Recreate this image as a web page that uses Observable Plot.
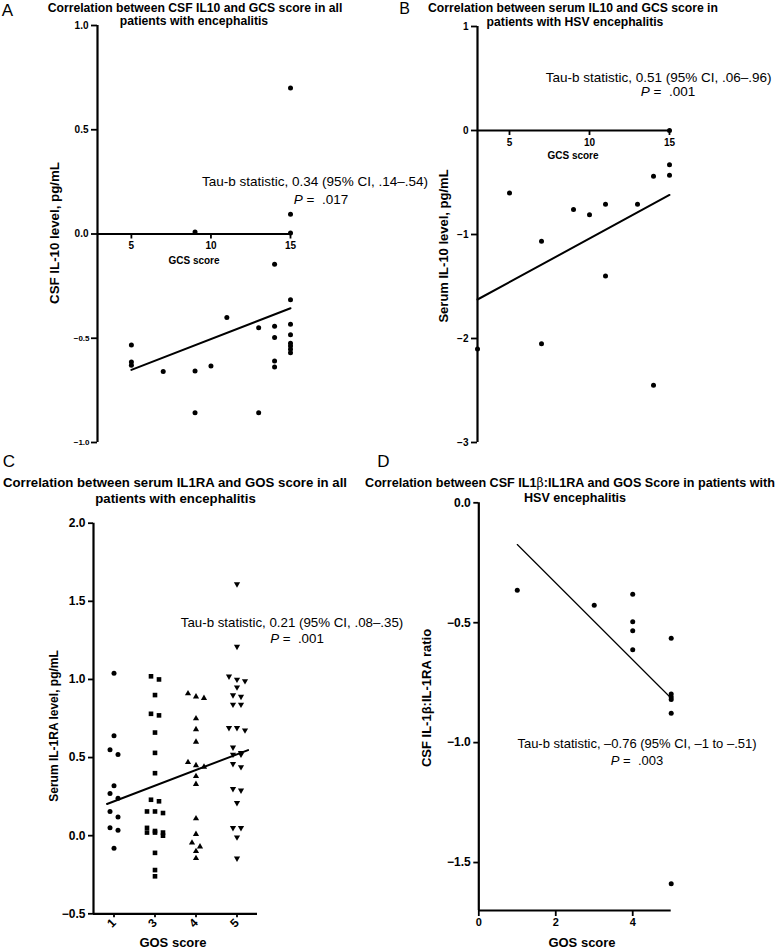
<!DOCTYPE html>
<html><head><meta charset="utf-8">
<script src="https://cdn.jsdelivr.net/npm/d3@7"></script>
<script src="https://cdn.jsdelivr.net/npm/@observablehq/plot@0.6"></script>
<style>
html,body{margin:0;padding:0;background:#fff;}
#page{position:relative;width:778px;height:948px;overflow:hidden;background:#fff;color:#000;}
</style></head>
<body><div id="page"></div>
<script>
// ---------- DATA ----------
// Panel A: CSF IL-10 vs GCS score (all patients)
const gcsA  = [15, 15, 15, 9, 14, 15, 11, 13, 14, 14, 14, 14, 15, 15, 15, 15, 15, 15, 5, 5, 5, 7, 9, 10, 9, 13];
const il10A = [0.70, 0.095, 0.005, 0.01, -0.145, -0.315, -0.40, -0.45, -0.443, -0.497, -0.609, -0.638, -0.433, -0.483, -0.524, -0.537, -0.553, -0.569, -0.532, -0.614, -0.63, -0.659, -0.657, -0.633, -0.857, -0.857];
const regAX = [5, 15];
const regAY = [-0.652, -0.356];
const xDomainA = [2.87, 15];
const yDomainA = [-1, 1];
const xTicksA = [5, 10, 15];
const yTicksA = [1, 0.5, 0];
const yTicksNegA = [-0.5, -1];

// Panel B: serum IL-10 vs GCS score (HSV)
const gcsB  = [15, 15, 15, 14, 5, 9, 10, 11, 13, 7, 11, 3, 7, 14];
const il10B = [0, -0.33, -0.43, -0.44, -0.60, -0.76, -0.81, -0.71, -0.71, -1.065, -1.40, -2.10, -2.05, -2.45];
const regBX = [3, 15];
const regBY = [-1.625, -0.62];
const xDomainB = [3, 15];
const yDomainB = [-3, 1];
const xTicksB = [5, 10, 15];
const yTicksB = [1, 0, -1, -2, -3];

// Panel C: serum IL-1RA vs GOS score (all patients)
const gosCats = ["1", "3", "4", "5"];
const il1raGos1 = [1.04, 0.64, 0.55, 0.52, 0.32, 0.27, 0.24, 0.155, 0.12, 0.05, 0.035, -0.08];
const il1raGos3 = [1.02, 1.0, 0.9, 0.78, 0.77, 0.66, 0.53, 0.40, 0.23, 0.22, 0.155, 0.145, 0.155, 0.05, 0.03, 0.02, 0.02, 0.02, 0.0, -0.11, -0.22, -0.26];
const il1raGos4 = [0.91, 0.89, 0.88, 0.75, 0.68, 0.60, 0.47, 0.45, 0.44, 0.38, 0.33, 0.11, 0.01, -0.045, -0.07, -0.10, -0.145];
const il1raGos5 = [1.61, 1.21, 1.02, 1.0, 0.99, 0.95, 0.90, 0.89, 0.84, 0.84, 0.69, 0.69, 0.675, 0.565, 0.53, 0.52, 0.52, 0.46, 0.44, 0.30, 0.29, 0.21, 0.05, 0.05, -0.01, -0.145];
const regCX = [-0.17, 3.27];   // in category-index units
const regCY = [0.203, 0.548];
const yDomainC = [-0.5, 2.0];
const yTicksC = [2.0, 1.5, 1.0, 0.5, 0.0, -0.5];

// Panel D: CSF IL-1beta:IL-1RA ratio vs GOS score (HSV)
const gosD   = [1, 3, 4, 4, 4, 4, 5, 5, 5, 5, 5, 5];
const ratioD = [-0.365, -0.427, -0.381, -0.496, -0.533, -0.613, -0.565, -0.797, -0.81, -0.82, -0.878, -1.588];
const regDX = [1, 5];
const regDY = [-0.174, -0.815];
const xDomainD = [0, 5];
const yDomainD = [-1.7, 0];
const xTicksD = [0, 2, 4];
const yTicksD = [0, -0.5, -1.0, -1.5];

// ---------- LAYOUT HELPERS ----------
const FONT = '"Liberation Sans", Arial, Helvetica, sans-serif';
const page = document.getElementById("page");
const fmt1 = d3.format(".1f");
const fmt0 = d3.format("d");

function place(node, left, top) {
  node.style.position = "absolute";
  node.style.left = left + "px";
  node.style.top = top + "px";
  page.appendChild(node);
}
function txt(html, cx, cy, size, weight, rotate) {
  const d = document.createElement("div");
  d.innerHTML = html;
  d.style.position = "absolute";
  d.style.left = cx + "px";
  d.style.top = cy + "px";
  d.style.fontFamily = FONT;
  d.style.fontSize = size + "px";
  d.style.fontWeight = weight;
  d.style.lineHeight = "1";
  d.style.whiteSpace = "nowrap";
  d.style.transform = "translate(-50%,-50%)" + (rotate ? ` rotate(${rotate}deg)` : "");
  page.appendChild(d);
}
// pixel offset from bottom frame edge to the y value yv
function offsetTo(yDom, mt, mb, h, yv) {
  const ph = h - mt - mb;
  return mt + (yDom[1] - yv) / (yDom[1] - yDom[0]) * ph - (h - mb);
}
const baseStyle = {fontFamily: FONT, background: "transparent", overflow: "visible", color: "#000"};
const AX = 2.2;   // axis line width
const TK = 1.8;   // tick width

// ---------- PANEL A ----------
{
  const W = 389, H = 470, ml = 97, mr = 99, mt = 25, mb = 28;
  const dy0 = offsetTo(yDomainA, mt, mb, H, 0);
  const p = Plot.plot({
    width: W, height: H, marginLeft: ml, marginRight: mr, marginTop: mt, marginBottom: mb,
    x: {domain: xDomainA}, y: {domain: yDomainA},
    style: baseStyle,
    marks: [
      Plot.ruleX([xDomainA[0]], {stroke: "#000", strokeWidth: AX}),
      Plot.ruleY([0], {stroke: "#000", strokeWidth: AX}),
      Plot.axisY({ticks: yTicksA, tickFormat: fmt1, tickSize: 6, tickPadding: 3, fontSize: 10, fontWeight: "bold", strokeWidth: TK, label: null}),
      Plot.axisY({ticks: yTicksNegA, tickFormat: fmt1, tickSize: 6, tickPadding: 2, fontSize: 8, fontWeight: "bold", strokeWidth: TK, label: null}),
      Plot.axisX({ticks: xTicksA, tickFormat: fmt0, tickSize: 5, tickPadding: 3, fontSize: 10, fontWeight: "bold", strokeWidth: TK, label: null, dy: dy0}),
      Plot.line({length: regAX.length}, {x: regAX, y: regAY, stroke: "#000", strokeWidth: 2}),
      Plot.dot({length: gcsA.length}, {x: gcsA, y: il10A, r: 2.5, fill: "#000", stroke: "none"})
    ]
  });
  place(p, 0, 0);
}

// ---------- PANEL B ----------
{
  const W = 389, H = 470, ml = 88, mr = 109, mt = 26, mb = 28;
  const dy0 = offsetTo(yDomainB, mt, mb, H, 0);
  const p = Plot.plot({
    width: W, height: H, marginLeft: ml, marginRight: mr, marginTop: mt, marginBottom: mb,
    x: {domain: xDomainB}, y: {domain: yDomainB},
    style: baseStyle,
    marks: [
      Plot.ruleX([xDomainB[0]], {stroke: "#000", strokeWidth: AX}),
      Plot.ruleY([0], {stroke: "#000", strokeWidth: AX}),
      Plot.axisY({ticks: yTicksB, tickFormat: fmt0, tickSize: 6, tickPadding: 3, fontSize: 10, fontWeight: "bold", strokeWidth: TK, label: null}),
      Plot.axisX({ticks: xTicksB, tickFormat: fmt0, tickSize: 5, tickPadding: 3, fontSize: 10, fontWeight: "bold", strokeWidth: TK, label: null, dy: dy0}),
      Plot.line({length: regBX.length}, {x: regBX, y: regBY, stroke: "#000", strokeWidth: 2}),
      Plot.dot({length: gcsB.length}, {x: gcsB, y: il10B, r: 2.5, fill: "#000", stroke: "none"})
    ]
  });
  place(p, 389, 0);
}

// ---------- PANEL C ----------
{
  const W = 389, H = 478, ml = 93, mr = 132, mt = 52.7, mb = 34.7;
  const kY = (H - mt - mb) / (yDomainC[1] - yDomainC[0]);   // px per y unit
  const xDomainC = [-0.5, gosCats.length - 0.5];
  const kX = (W - ml - mr) / (xDomainC[1] - xDomainC[0]);   // px per category step
  // column-scatter spreading: points close in y share a centred row
  function spread(values, step, rowGap, maxPerRow) {
    const idx = values.map((v, i) => i).sort((a, b) => values[b] - values[a]);
    const off = new Array(values.length).fill(0);
    let row = [];
    const flush = () => { row.forEach((i, k) => off[i] = (k - (row.length - 1) / 2) * step); row = []; };
    for (const i of idx) {
      if (row.length && ((values[row[0]] - values[i]) * kY > rowGap || row.length >= maxPerRow)) flush();
      row.push(i);
    }
    flush();
    return off;
  }
  const groups = [il1raGos1, il1raGos3, il1raGos4, il1raGos5];
  const triDown = {draw(ctx, size) {
    const y = -Math.sqrt(size / (Math.sqrt(3) * 3));
    ctx.moveTo(0, -y * 2);
    ctx.lineTo(-Math.sqrt(3) * y, y);
    ctx.lineTo(Math.sqrt(3) * y, y);
    ctx.closePath();
  }};
  const symbols = ["circle", "square", "triangle", triDown];
  const radii = [2.5, 2.6, 2.3, 2.3];
  const dotMarks = groups.map((vals, gi) => {
    const off = spread(vals, 8, 6, 3);
    const xs = vals.map((v, i) => gi + off[i] / kX);
    return Plot.dot({length: vals.length}, {x: xs, y: vals, symbol: symbols[gi], r: radii[gi], fill: "#000", stroke: "none"});
  });
  const p = Plot.plot({
    width: W, height: H, marginLeft: ml, marginRight: mr, marginTop: mt, marginBottom: mb,
    x: {domain: xDomainC}, y: {domain: yDomainC},
    style: baseStyle,
    marks: [
      Plot.ruleX([xDomainC[0]], {stroke: "#000", strokeWidth: AX}),
      Plot.ruleY([yDomainC[0]], {stroke: "#000", strokeWidth: AX}),
      Plot.axisY({ticks: yTicksC, tickFormat: fmt1, tickSize: 5, tickPadding: 3, fontSize: 12, fontWeight: "bold", strokeWidth: TK, label: null}),
      Plot.axisX({ticks: gosCats.map((c, i) => i), tickFormat: i => gosCats[i], tickRotate: -45, tickSize: 4, tickPadding: 3, fontSize: 12, fontWeight: "bold", strokeWidth: TK, label: null}),
      Plot.line({length: regCX.length}, {x: regCX, y: regCY, stroke: "#000", strokeWidth: 2}),
      ...dotMarks
    ]
  });
  place(p, 0, 470);
}

// ---------- PANEL D ----------
{
  const W = 389, H = 478, ml = 89.3, mr = 107.3, mt = 32.3, mb = 38;
  const p = Plot.plot({
    width: W, height: H, marginLeft: ml, marginRight: mr, marginTop: mt, marginBottom: mb,
    x: {domain: xDomainD}, y: {domain: yDomainD},
    style: baseStyle,
    marks: [
      Plot.ruleX([xDomainD[0]], {stroke: "#000", strokeWidth: AX}),
      Plot.ruleY([yDomainD[0]], {stroke: "#000", strokeWidth: AX}),
      Plot.axisY({ticks: yTicksD, tickFormat: fmt1, tickSize: 5, tickPadding: 3, fontSize: 12, fontWeight: "bold", strokeWidth: TK, label: null}),
      Plot.axisX({ticks: xTicksD, tickFormat: fmt0, tickSize: 6, tickPadding: 2, fontSize: 11, fontWeight: "bold", strokeWidth: TK, label: null}),
      Plot.line({length: regDX.length}, {x: regDX, y: regDY, stroke: "#000", strokeWidth: 1.2}),
      Plot.dot({length: gosD.length}, {x: gosD, y: ratioD, r: 2.5, fill: "#000", stroke: "none"})
    ]
  });
  place(p, 389, 470);
}

// ---------- TEXT ----------
// panel letters
txt("A", 7.5, 10, 17, "normal");
txt("B", 404.5, 9, 16, "normal");
txt("C", 9, 461, 17, "normal");
txt("D", 383.5, 461, 17, "normal");
// titles
txt("Correlation between CSF IL10 and GCS score in all", 195, 7.5, 12.2, "bold");
txt("patients with encephalitis", 194, 21, 12.2, "bold");
txt("Correlation between serum IL10 and GCS score in", 573, 7.5, 12.2, "bold");
txt("patients with HSV encephalitis", 575, 22, 12.2, "bold");
txt("Correlation between serum IL1RA and GOS score in all", 175, 483, 13.2, "bold");
txt("patients with encephalitis", 175.5, 499, 13.2, "bold");
txt("Correlation between CSF IL1<span style=\"font-weight:normal;font-family:'DejaVu Serif',serif\">β</span>:IL1RA and GOS Score in patients with", 570, 483, 12.6, "bold");
txt("HSV encephalitis", 575, 498, 12.6, "bold");
// annotations
txt("Tau-b statistic, 0.34 (95% CI, .14–.54)", 315, 182, 13.5, "normal");
txt("<i>P</i> =&nbsp; .017", 321, 200, 13.5, "normal");
txt("Tau-b statistic, 0.51 (95% CI, .06–.96)", 658.7, 77.5, 13.5, "normal");
txt("<i>P</i> =&nbsp; .001", 668, 92, 13.5, "normal");
txt("Tau-b statistic, 0.21 (95% CI, .08–.35)", 292, 623, 13.3, "normal");
txt("<i>P</i> =&nbsp; .001", 297, 639, 13.3, "normal");
txt("Tau-b statistic, –0.76 (95% CI, –1 to –.51)", 637, 743, 13, "normal");
txt("<i>P</i> =&nbsp; .003", 637, 760, 13, "normal");
// axis titles
txt("CSF IL-10 level, pg/mL", 55, 233, 13.3, "bold", -90);
txt("GCS score", 194, 261, 10, "bold");
txt("Serum IL-10 level, pg/mL", 443, 246, 13, "bold", -90);
txt("GCS score", 573, 156, 10, "bold");
txt("Serum IL-1RA level, pg/mL", 54, 726, 12, "bold", -90);
txt("GOS score", 173, 942, 13, "bold");
txt("CSF IL-1β:IL-1RA ratio", 426, 698, 13, "bold", -90);
txt("GOS score", 582, 942, 13, "bold");
</script>
</body></html>
